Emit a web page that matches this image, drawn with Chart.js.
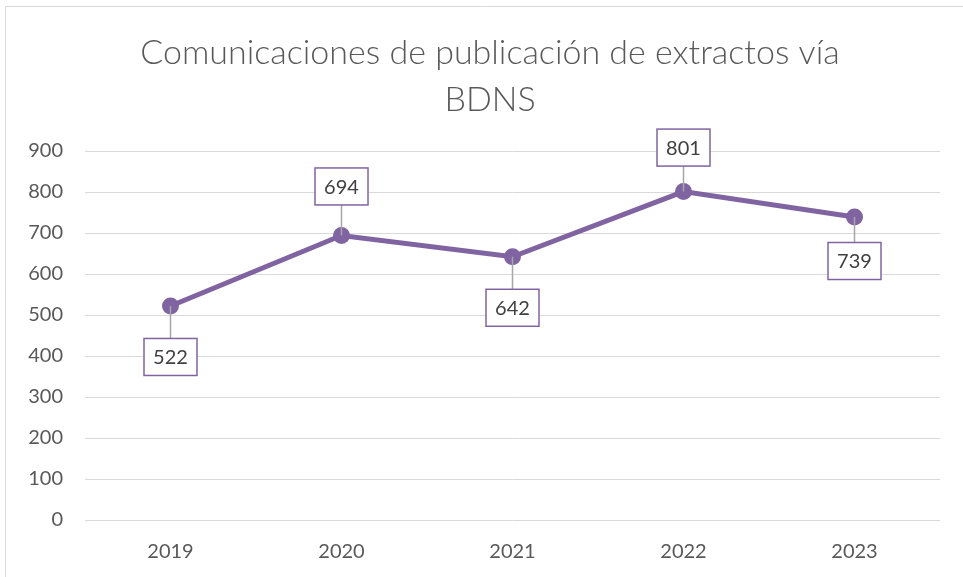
<!DOCTYPE html>
<html lang="es">
<head>
    <meta charset="utf-8" />
    <title>Comunicaciones BDNS</title>
    <script src="https://cdn.jsdelivr.net/npm/chart.js"></script>
    <style>
        html, body { margin: 0; padding: 0; background: #fff; }
        #wrap { position: relative; width: 963px; height: 577px; }
    </style>
</head>
<body>
    <div id="wrap"><canvas id="chart"></canvas></div>
    <script>
        // Datos
        const years = ['2019', '2020', '2021', '2022', '2023'];
        const comunicaciones = [522, 694, 642, 801, 739];
        const yTicks = [0, 100, 200, 300, 400, 500, 600, 700, 800, 900];
        const titulo = ['Comunicaciones de publicación de extractos vía', 'BDNS'];

        const purple = '#8064A2';
        const grey = '#595959';

        // marco del gráfico + título (centrado sobre todo el gráfico, como en Excel)
        const framePlugin = {
            id: 'frame',
            beforeDraw(chart) {
                const ctx = chart.ctx;
                ctx.save();
                ctx.fillStyle = '#fff';
                ctx.fillRect(0, 0, chart.width, chart.height);
                ctx.strokeStyle = '#d9d9d9';
                ctx.lineWidth = 1;
                ctx.beginPath();
                ctx.moveTo(5.5, chart.height);
                ctx.lineTo(5.5, 6.5);
                ctx.lineTo(chart.width, 6.5);
                ctx.stroke();
                ctx.fillStyle = grey;
                ctx.font = '300 34px Lato';
                ctx.textAlign = 'center';
                ctx.textBaseline = 'middle';
                titulo.forEach((t, i) => ctx.fillText(t, 490, 53 + i * 47));
                ctx.restore();
            }
        };

        // etiquetas de datos con recuadro y línea guía
        const boxLabels = {
            id: 'boxLabels',
            afterDatasetsDraw(chart, args, opts) {
                const ctx = chart.ctx;
                const meta = chart.getDatasetMeta(0);
                const values = chart.data.datasets[0].data;
                ctx.save();
                ctx.font = opts.font;
                ctx.textAlign = 'center';
                ctx.textBaseline = 'middle';
                meta.data.forEach((pt, i) => {
                    const dy = opts.shift[i];
                    const cx = pt.x;
                    const cy = pt.y + dy;
                    const w = 53, h = 37;
                    // línea guía
                    ctx.strokeStyle = '#a6a6a6';
                    ctx.lineWidth = 1.5;
                    ctx.beginPath();
                    ctx.moveTo(pt.x, pt.y);
                    ctx.lineTo(cx, dy > 0 ? cy - h / 2 : cy + h / 2);
                    ctx.stroke();
                    // recuadro
                    ctx.fillStyle = '#fff';
                    ctx.fillRect(cx - w / 2, cy - h / 2, w, h);
                    ctx.strokeStyle = purple;
                    ctx.lineWidth = 1.5;
                    ctx.strokeRect(cx - w / 2, cy - h / 2, w, h);
                    ctx.fillStyle = '#404040';
                    ctx.fillText(String(values[i]), cx, cy + 1);
                });
                ctx.restore();
            }
        };

        const chart = new Chart(document.getElementById('chart'), {
            type: 'line',
            data: {
                labels: years,
                datasets: [{
                    label: 'Comunicaciones',
                    data: comunicaciones,
                    borderColor: purple,
                    backgroundColor: purple,
                    borderWidth: 5,
                    pointRadius: 6,
                    pointBackgroundColor: purple,
                    pointBorderColor: purple,
                    tension: 0
                }]
            },
            options: {
                responsive: true,
                maintainAspectRatio: false,
                animation: false,
                layout: { padding: { left: 0, right: 23, top: 151, bottom: 0 } },
                plugins: {
                    legend: { display: false },
                    tooltip: { enabled: false },
                    title: { display: false },
                    boxLabels: {
                        font: '20px Lato',
                        shift: [51, -49, 51, -44, 44]
                    }
                },
                scales: {
                    x: {
                        offset: true,
                        grid: { display: false, drawTicks: false },
                        border: { display: false },
                        ticks: { color: grey, font: { family: 'Lato', size: 20 }, padding: 20 },
                        afterFit(s) { s.height = 57; }
                    },
                    y: {
                        min: 0,
                        max: 900,
                        afterBuildTicks(s) { s.ticks = yTicks.map(v => ({ value: v })); },
                        grid: { color: '#d9d9d9', lineWidth: 1, drawTicks: false },
                        border: { display: false },
                        ticks: { color: grey, font: { family: 'Lato', size: 20 }, padding: 22 },
                        afterFit(s) { s.width = 85; }
                    }
                }
            },
            plugins: [framePlugin, boxLabels]
        });
    </script>
</body>
</html>
